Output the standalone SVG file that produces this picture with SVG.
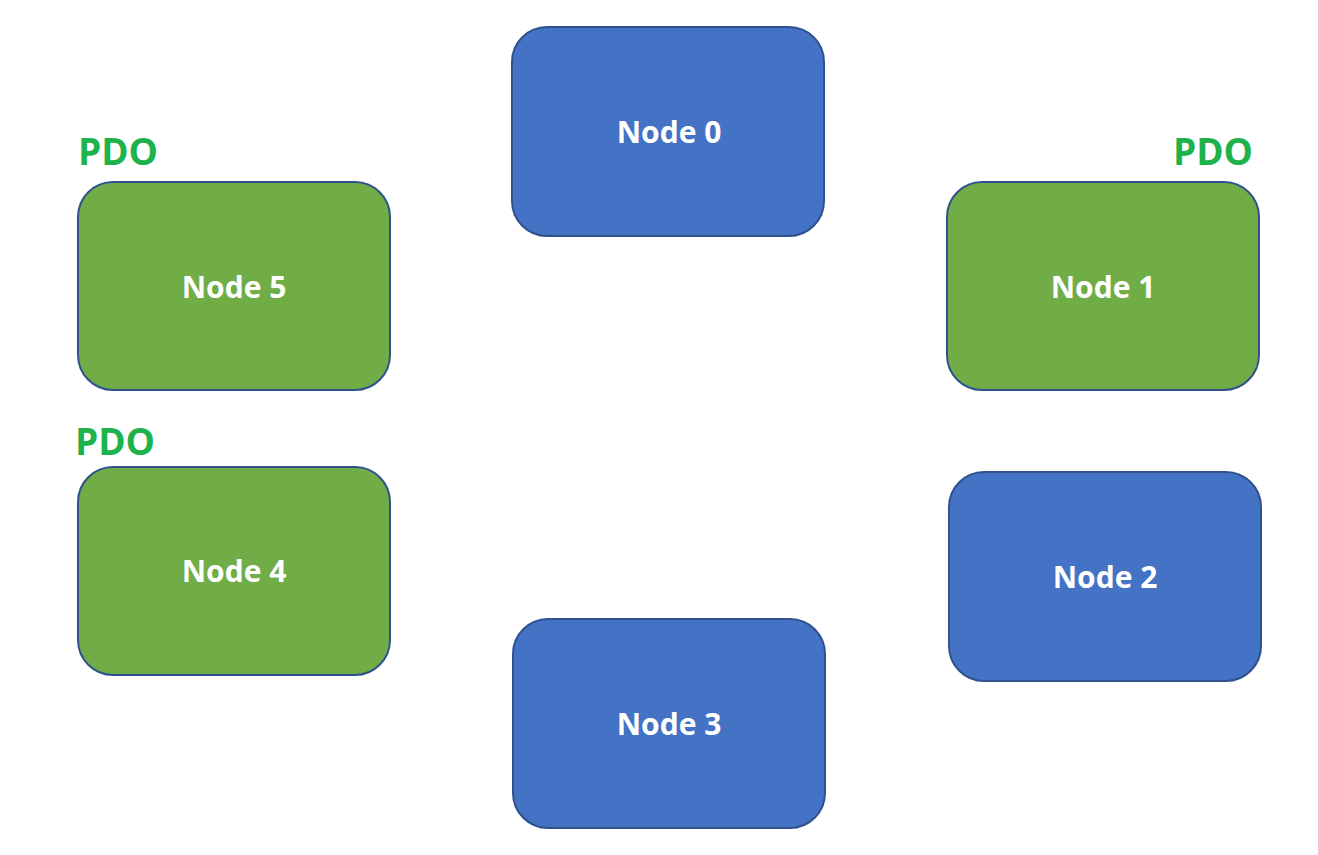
<svg xmlns="http://www.w3.org/2000/svg" width="1318" height="855" viewBox="0 0 1318 855">
<style>
.blue{fill:#4472C4;stroke:#2F528F;stroke-width:2}
.green{fill:#70AD47;stroke:#2F528F;stroke-width:2}
.lbl{font-family:"Open Sans","Liberation Sans",sans-serif;font-weight:bold;font-size:30px;fill:#FFFFFF;text-anchor:middle}
.pdo{font-family:"Open Sans","Liberation Sans",sans-serif;font-weight:bold;font-size:37px;fill:#1DB24B}
</style>
<rect width="1318" height="855" fill="#FFFFFF"/>
<g id="connectors"></g>
<g id="node0"><rect class="blue" x="512" y="27" width="312" height="209" rx="35"/><text class="lbl" x="669" y="143">Node 0</text></g>
<g id="node1"><rect class="green" x="947" y="182" width="312" height="208" rx="35"/><text class="lbl" x="1103" y="298">Node 1</text></g>
<g id="node2"><rect class="blue" x="949" y="472" width="312" height="209" rx="35"/><text class="lbl" x="1105" y="588">Node 2</text></g>
<g id="node3"><rect class="blue" x="513" y="619" width="312" height="209" rx="35"/><text class="lbl" x="669" y="735">Node 3</text></g>
<g id="node4"><rect class="green" x="78" y="467" width="312" height="208" rx="35"/><text class="lbl" x="234" y="582">Node 4</text></g>
<g id="node5"><rect class="green" x="78" y="182" width="312" height="208" rx="35"/><text class="lbl" x="234" y="298">Node 5</text></g>
<g id="pdo5"><text class="pdo" x="78" y="165">PDO</text></g>
<g id="pdo1"><text class="pdo" x="1173" y="165">PDO</text></g>
<g id="pdo4"><text class="pdo" x="75" y="455">PDO</text></g>
</svg>
